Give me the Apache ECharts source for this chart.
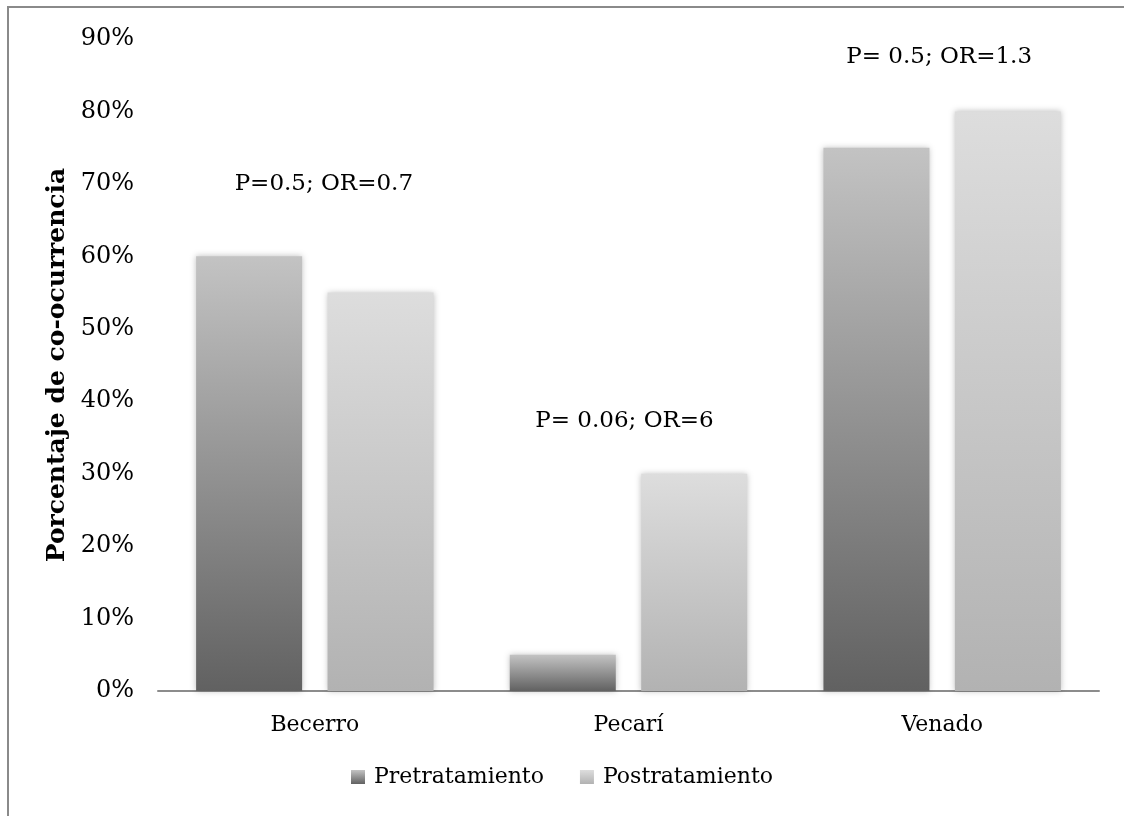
<!DOCTYPE html>
<html>
<head>
<meta charset="utf-8">
<script src="https://cdn.jsdelivr.net/npm/echarts@6/dist/echarts.min.js"></script>
<style>
  html, body { margin: 0; padding: 0; background: #fff; }
  #chart { width: 1124px; height: 816px; }
</style>
</head>
<body>
<div id="chart"></div>
<script>
// Co-occurrence percentage by species, before and after treatment
const categories = ['Becerro', 'Pecarí', 'Venado'];
const seriesNames = ['Pretratamiento', 'Postratamiento'];
const pretratamiento = [60, 5, 75];
const postratamiento = [55, 30, 80];
const yTicks = [0, 10, 20, 30, 40, 50, 60, 70, 80, 90];
// Statistical notes above each group, with the height (in %) they sit at
const noteTexts = ['P=0.5; OR=0.7', 'P= 0.06; OR=6', 'P= 0.5; OR=1.3'];
const noteHeights = [70, 37.3, 87.5];

const FONT = '"DejaVu Serif", serif';
const INK = '#000';

function vGrad(top, bottom) {
  return new echarts.graphic.LinearGradient(0, 0, 0, 1, [
    { offset: 0, color: top },
    { offset: 1, color: bottom }
  ]);
}

const chart = echarts.init(document.getElementById('chart'), null, { renderer: 'canvas' });

const barShadow = { shadowBlur: 6, shadowColor: 'rgba(0,0,0,0.25)', shadowOffsetX: 0, shadowOffsetY: 0 };

chart.setOption({
  animation: false,
  backgroundColor: '#fff',
  graphic: [{
    type: 'rect',
    shape: { x: 8, y: 7, width: 1300, height: 1000 },
    style: { fill: 'none', stroke: '#8a8a8a', lineWidth: 2 },
    silent: true
  }],
  grid: { left: 158, right: 25, top: 39, bottom: 125 },
  legend: {
    bottom: 23,
    left: 'center',
    itemWidth: 14,
    itemHeight: 14,
    itemGap: 36,
    icon: 'rect',
    textStyle: { fontFamily: FONT, fontSize: 22, color: INK, padding: [0, 0, 0, 4] },
    itemStyle: { shadowBlur: 0 },
    data: seriesNames
  },
  xAxis: {
    type: 'category',
    data: categories,
    axisLine: { lineStyle: { color: '#8c8c8c', width: 2 } },
    axisTick: { show: false },
    axisLabel: { fontFamily: FONT, fontSize: 22, color: INK, margin: 23 }
  },
  yAxis: {
    type: 'value',
    min: yTicks[0],
    max: yTicks[yTicks.length - 1],
    interval: 10,
    name: 'Porcentaje de co-ocurrencia',
    nameLocation: 'middle',
    nameGap: 84,
    nameRotate: 90,
    nameTextStyle: { fontFamily: FONT, fontWeight: 'bold', fontSize: 25, color: INK },
    axisLine: { show: false },
    axisTick: { show: false },
    splitLine: { show: false },
    axisLabel: { fontFamily: FONT, fontSize: 24, color: INK, margin: 24, formatter: v => v + '%' }
  },
  series: [
    {
      name: seriesNames[0],
      type: 'bar',
      data: pretratamiento,
      barWidth: 106,
      barGap: '24%',
      itemStyle: Object.assign({ color: vGrad('#c3c3c3', '#616161') }, barShadow)
    },
    {
      name: seriesNames[1],
      type: 'bar',
      data: postratamiento,
      barWidth: 106,
      itemStyle: Object.assign({ color: vGrad('#dddddd', '#b2b2b2') }, barShadow)
    },
    {
      // Text notes centred over each category
      name: 'notas',
      type: 'scatter',
      symbolSize: 0,
      silent: true,
      itemStyle: { opacity: 1 },
      data: categories.map((c, i) => [c, noteHeights[i]]),
      label: {
        show: true,
        position: 'inside',
        fontFamily: FONT,
        fontSize: 23,
        color: INK,
        opacity: 1,
        formatter: p => noteTexts[p.dataIndex]
      },
      labelLayout: (p) => ({ dx: [9, -4, -3][p.dataIndex] })
    }
  ]
});
</script>
</body>
</html>
